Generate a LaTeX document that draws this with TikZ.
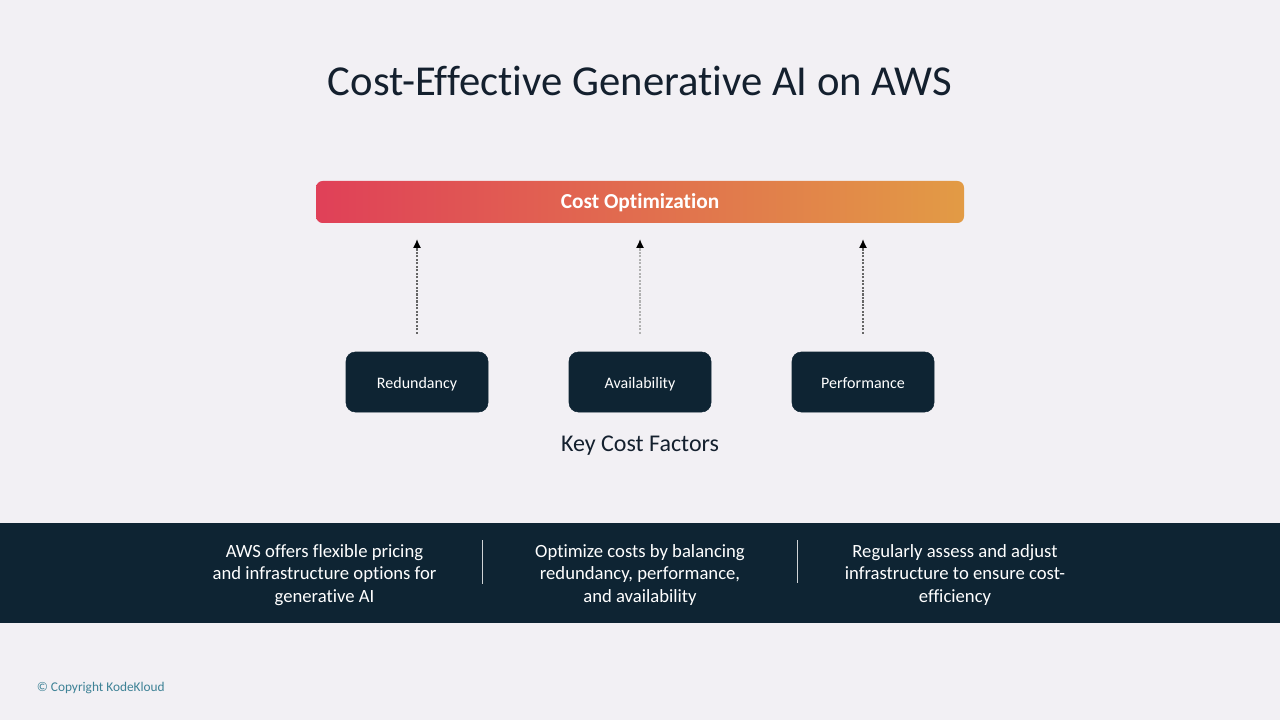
\documentclass[tikz,border=0pt]{standalone}
\usepackage{fontspec}
\setmainfont[Ligatures=CommonOff]{Carlito}
\usetikzlibrary{arrows.meta}
\definecolor{pagebg}{HTML}{F2F0F4}
\definecolor{navy}{HTML}{0E2433}
\definecolor{titleink}{HTML}{14202E}
\definecolor{barred}{HTML}{E04058}
\definecolor{barorange}{HTML}{E29B45}
\definecolor{copyink}{HTML}{3E8296}
\tikzset{
    factorbox/.style={rectangle,rounded corners=7pt,fill=navy,draw=navy,minimum width=106.5pt,minimum height=45pt,inner sep=0pt,text height=11pt,text depth=1pt,text=white,font=\fontsize{12}{14}\selectfont},
    upflow/.style={dash pattern=on 1.6pt off 1pt,line width=.8pt,xshift=-.4pt,-{Latex[length=6.5pt,width=6pt,black]},shorten <=13.5pt,shorten >=12pt},
    notetext/.style={align=center,text=white,font=\fontsize{14}{16.8}\selectfont},
    divider/.style={white!80!navy,line width=.6pt},
}
\begin{document}
\begin{tikzpicture}[x=.75pt,y=-.75pt]
    \fill[pagebg](0,0)rectangle(1280,720);
    \useasboundingbox(0,0)rectangle(1280,720);
    \node[text=titleink,font=\fontsize{32}{38}\selectfont,inner sep=0pt](title)at(640,80.5){Cost-Effective Generative AI on AWS};
    \node[rectangle,rounded corners=5pt,left color=barred,right color=barorange,minimum width=486pt,minimum height=31.5pt,inner sep=0pt,text height=12pt,text depth=2pt,text=white,font=\fontsize{16}{19}\selectfont\bfseries](bar)at(640,202){Cost Optimization};
    \node[factorbox](redundancy)at(417,382){Redundancy};
    \node[factorbox](availability)at(640,382){Availability};
    \node[factorbox](performance)at(863,382){Performance};
    \draw[upflow,black!60](redundancy.north)--(redundancy.north|-bar.south);
    \draw[upflow,black!30](availability.north)--(availability.north|-bar.south);
    \draw[upflow,black!60](performance.north)--(performance.north|-bar.south);
    \node[text=titleink,font=\fontsize{18}{22}\selectfont,inner sep=0pt](factors)at(640,445.5){Key Cost Factors};
    \fill[navy](0,523)rectangle(1280,623);
    \node[notetext](noteleft)at(324.5,575){AWS offers flexible pricing\\and infrastructure options for\\generative AI};
    \node[notetext](notemid)at(640,575){Optimize costs by balancing\\redundancy, performance,\\and availability};
    \node[notetext](noteright)at(955,575){Regularly assess and adjust\\infrastructure to ensure cost-\\efficiency};
    \draw[divider](482,540)--(482,584);
    \draw[divider](797.5,540)--(797.5,583);
    \node[text=copyink,anchor=west,inner sep=0pt,font=\fontsize{10}{12}\selectfont](copy)at(36.5,688){© Copyright KodeKloud};
\end{tikzpicture}
\end{document}
